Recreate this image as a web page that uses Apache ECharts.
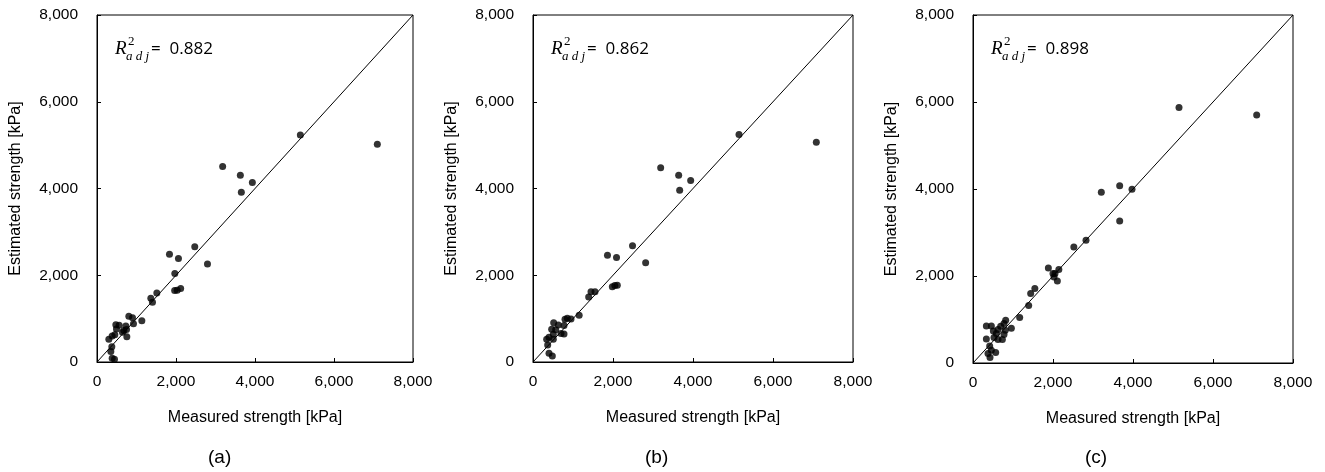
<!DOCTYPE html>
<html lang="en">
<head>
    <meta charset="UTF-8">
    <title>Measured vs estimated strength</title>
    <script src="https://cdn.jsdelivr.net/npm/echarts@6/dist/echarts.min.js"></script>
    <style>
        html, body { margin: 0; padding: 0; background: #fff; }
        #chart { width: 1325px; height: 472px; }
    </style>
</head>
<body>
<div id="chart"></div>
<script type="text/javascript">
    var axisTicks = [0, 2000, 4000, 6000, 8000];
    var panelLabels = ['(a)', '(b)', '(c)'];
    var r2Values = ['0.882', '0.862', '0.898'];
    var xTitle = 'Measured strength [kPa]';
    var yTitle = 'Estimated strength [kPa]';

    var measuredA = [5148, 7097, 3181, 3629, 3933, 3654, 2475, 1835, 2062, 2797, 1970,
        1966, 2030, 2118, 1515, 1363, 1405, 1135, 806, 899, 924, 730, 680, 645, 747, 755,
        477, 561, 493, 451, 384, 300, 375, 350, 384, 443];
    var estimatedA = [5231, 5023, 4508, 4308, 4138, 3915, 2656, 2487, 2387, 2260, 2038,
        1646, 1654, 1692, 1592, 1472, 1376, 949, 1054, 1018, 884, 830, 726, 684, 750, 580,
        857, 850, 761, 630, 600, 522, 350, 242, 85, 62];

    var measuredB = [5150, 7083, 3192, 3642, 3942, 3667, 2488, 1862, 2088, 2816,
        1983, 2046, 2108, 1392, 1450, 1550, 1154, 950, 858, 800, 775,
        633, 517, 467, 567, 775, 700, 508, 400, 342, 508, 367, 400, 483];
    var estimatedB = [5246, 5069, 4477, 4308, 4185, 3962, 2679, 2460, 2410, 2288,
        1734, 1765, 1768, 1500, 1620, 1620, 1076, 990, 1006, 983, 840,
        853, 907, 753, 745, 645, 655, 638, 569, 523, 523, 392, 200, 138];

    var measuredC = [5150, 7092, 3208, 3667, 3975, 3667, 2825, 2521,
        1884, 2146, 2000, 2050, 2025, 2109, 1546, 1442, 1392, 1167,
        959, 817, 775, 692, 808, 775, 625, 584, 509, 334, 459,
        525, 625, 734, 334, 417, 459, 567, 375, 425];
    var estimatedC = [5875, 5699, 3927, 4073, 3996, 3267, 2823, 2669,
        2183, 2152, 2060, 2057, 1975, 1883, 1715, 1596, 1323, 1047,
        800, 982, 906, 844, 752, 653, 768, 676, 736, 851, 851,
        584, 538, 538, 552, 390, 292, 239, 216, 124];

    var measured = [measuredA, measuredB, measuredC];
    var estimated = [estimatedA, estimatedB, estimatedC];

    // plot boxes in pixels
    var boxes = [
        {left: 97, top: 15, width: 316, height: 347},
        {left: 533, top: 15, width: 320, height: 347},
        {left: 973, top: 15, width: 320, height: 348}
    ];
    var labelCenters = [221, 658, 1098];

    function fmt(v) {
        return String(v).replace(/\B(?=(\d{3})+(?!\d))/g, ',');
    }

    var grids = [], xAxes = [], yAxes = [], series = [], graphics = [];
    var axisMin = axisTicks[0], axisMax = axisTicks[axisTicks.length - 1];
    var step = axisTicks[1] - axisTicks[0];

    for (var i = 0; i < 3; i++) {
        var b = boxes[i];
        grids.push({
            left: b.left, top: b.top, width: b.width, height: b.height,
            show: true, borderColor: '#000', borderWidth: 1, backgroundColor: 'transparent'
        });
        var axisCommon = {
            gridIndex: i, type: 'value', min: axisMin, max: axisMax, interval: step,
            nameLocation: 'middle',
            nameTextStyle: {fontFamily: 'Liberation Sans', fontSize: 16, color: '#000'},
            axisLine: {show: true, lineStyle: {color: '#000', width: 1}},
            axisTick: {show: true, inside: true, length: 4, lineStyle: {color: '#000'}},
            splitLine: {show: false},
            axisLabel: {fontFamily: 'Liberation Sans', fontSize: 15.5, color: '#000', formatter: fmt}
        };
        xAxes.push(Object.assign({}, axisCommon, {
            name: xTitle, nameGap: 48,
            axisLabel: Object.assign({}, axisCommon.axisLabel, {margin: 12})
        }));
        yAxes.push(Object.assign({}, axisCommon, {
            name: yTitle, nameGap: 73,
            axisLabel: Object.assign({}, axisCommon.axisLabel, {margin: 19})
        }));

        var pts = [];
        for (var k = 0; k < measured[i].length; k++) {
            pts.push([measured[i][k], estimated[i][k]]);
        }
        series.push({
            type: 'scatter', xAxisIndex: i, yAxisIndex: i,
            data: pts, symbolSize: 7, itemStyle: {color: '#000'}, z: 3
        });
        series.push({
            type: 'line', xAxisIndex: i, yAxisIndex: i,
            data: [[axisMin, axisMin], [axisMax, axisMax]],
            showSymbol: false, silent: true,
            lineStyle: {color: '#000', width: 1}, z: 2
        });

        // R^2_adj annotation
        var lx = b.left + 18;
        graphics.push({type: 'text', left: lx, top: 39,
            style: {text: 'R', font: 'italic 19px "Liberation Serif"', fill: '#000'}});
        graphics.push({type: 'text', left: lx + 13, top: 35,
            style: {text: '2', font: '13px "Liberation Serif"', fill: '#000'}});
        graphics.push({type: 'text', left: lx + 11, top: 50,
            style: {text: 'a d j', font: 'italic 13px "Liberation Serif"', fill: '#000'}});
        graphics.push({type: 'text', left: lx + 36, top: 41,
            style: {text: '=  ' + r2Values[i], font: '17px "Open Sans"', fill: '#000'}});

        graphics.push({type: 'text', left: labelCenters[i] - 13, top: 448,
            style: {text: panelLabels[i], font: '19px "Liberation Sans"', fill: '#000'}});
    }

    var chart = echarts.init(document.getElementById('chart'));
    chart.setOption({
        animation: false,
        backgroundColor: '#fff',
        grid: grids,
        xAxis: xAxes,
        yAxis: yAxes,
        series: series,
        graphic: graphics
    });
</script>
</body>
</html>
